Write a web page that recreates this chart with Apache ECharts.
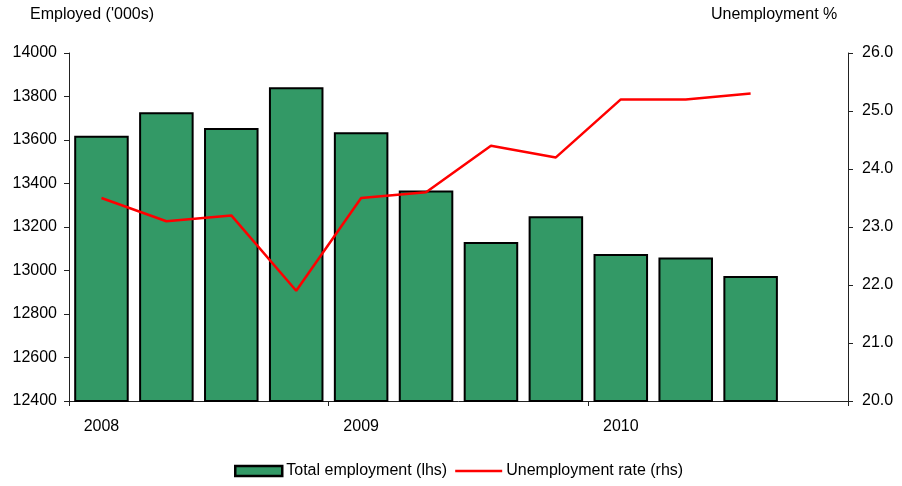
<!DOCTYPE html>
<html>
<head>
<meta charset="utf-8">
<script src="https://cdn.jsdelivr.net/npm/echarts@6/dist/echarts.min.js"></script>
<style>
html,body{margin:0;padding:0;background:#fff;}
#chart{width:902px;height:486px;}
</style>
</head>
<body>
<div id="chart"></div>
<script>
var categories = ['2008Q1','2008Q2','2008Q3','2008Q4','2009Q1','2009Q2','2009Q3','2009Q4','2010Q1','2010Q2','2010Q3','2010Q4'];
var employment = [13620, 13728, 13655, 13843, 13636, 13368, 13131, 13250, 13076, 13060, 12975, null];
var unemployment = [23.5, 23.1, 23.2, 21.9, 23.5, 23.6, 24.4, 24.2, 25.2, 25.2, 25.3, null];
var leftTitle = "Employed ('000s)";
var rightTitle = 'Unemployment %';
var seriesNames = ['Total employment (lhs)', 'Unemployment rate (rhs)'];

var font = 'Liberation Sans, Arial, sans-serif';
var chart = echarts.init(document.getElementById('chart'));
chart.setOption({
  animation: false,
  backgroundColor: '#ffffff',
  textStyle: {fontFamily: font},
  grid: {left: 69, right: 54, top: 53, bottom: 85, containLabel: false},
  graphic: [
    {type: 'text', left: 30, top: 7, style: {text: leftTitle, font: '16px ' + font, fill: '#000'}},
    {type: 'text', left: 711, top: 7, style: {text: rightTitle, font: '16px ' + font, fill: '#000'}}
  ],
  legend: {
    bottom: 2,
    left: 229,
    itemWidth: 47,
    itemHeight: 10,
    itemGap: 8,
    textStyle: {fontFamily: font, fontSize: 16, color: '#000', padding: [0, 0, 0, -1]},
    data: [
      {name: seriesNames[0], icon: 'rect', itemStyle: {color: '#339966', borderColor: '#000', borderWidth: 2.5}},
      {name: seriesNames[1], icon: 'path://M0,0L47,0L47,2.5L0,2.5Z', itemStyle: {color: '#ff0000', borderWidth: 0}}
    ]
  },
  xAxis: {
    type: 'category',
    data: categories,
    boundaryGap: true,
    axisLine: {lineStyle: {color: '#222', width: 1}},
    axisTick: {show: true, interval: 3, length: 5, inside: false, lineStyle: {color: '#222'}},
    axisLabel: {interval: 3, margin: 18, fontSize: 16, color: '#000', fontFamily: font,
      formatter: function (v) { return v.slice(0, 4); }},
    splitLine: {show: false}
  },
  yAxis: [
    {
      type: 'value', min: 12400, max: 14000, interval: 200, position: 'left',
      axisLine: {show: true, lineStyle: {color: '#222'}},
      axisTick: {show: true, length: 5, lineStyle: {color: '#222'}},
      axisLabel: {margin: 12, fontSize: 16, color: '#000', fontFamily: font,
        formatter: function (v) { return String(v); }},
      splitLine: {show: false}
    },
    {
      type: 'value', min: 20, max: 26, interval: 1, position: 'right',
      axisLine: {show: true, lineStyle: {color: '#222'}},
      axisTick: {show: true, length: 5, lineStyle: {color: '#222'}},
      axisLabel: {margin: 14, fontSize: 16, color: '#000', fontFamily: font,
        formatter: function (v) { return v.toFixed(1); }},
      splitLine: {show: false}
    }
  ],
  series: [
    {
      name: seriesNames[0], type: 'bar', yAxisIndex: 0, data: employment,
      barCategoryGap: '16%',
      itemStyle: {color: '#339966', borderColor: '#000', borderWidth: 2}
    },
    {
      name: seriesNames[1], type: 'line', yAxisIndex: 1, data: unemployment,
      symbol: 'none', connectNulls: false,
      lineStyle: {color: '#ff0000', width: 2.5},
      itemStyle: {color: '#ff0000'}
    }
  ]
});
</script>
</body>
</html>
